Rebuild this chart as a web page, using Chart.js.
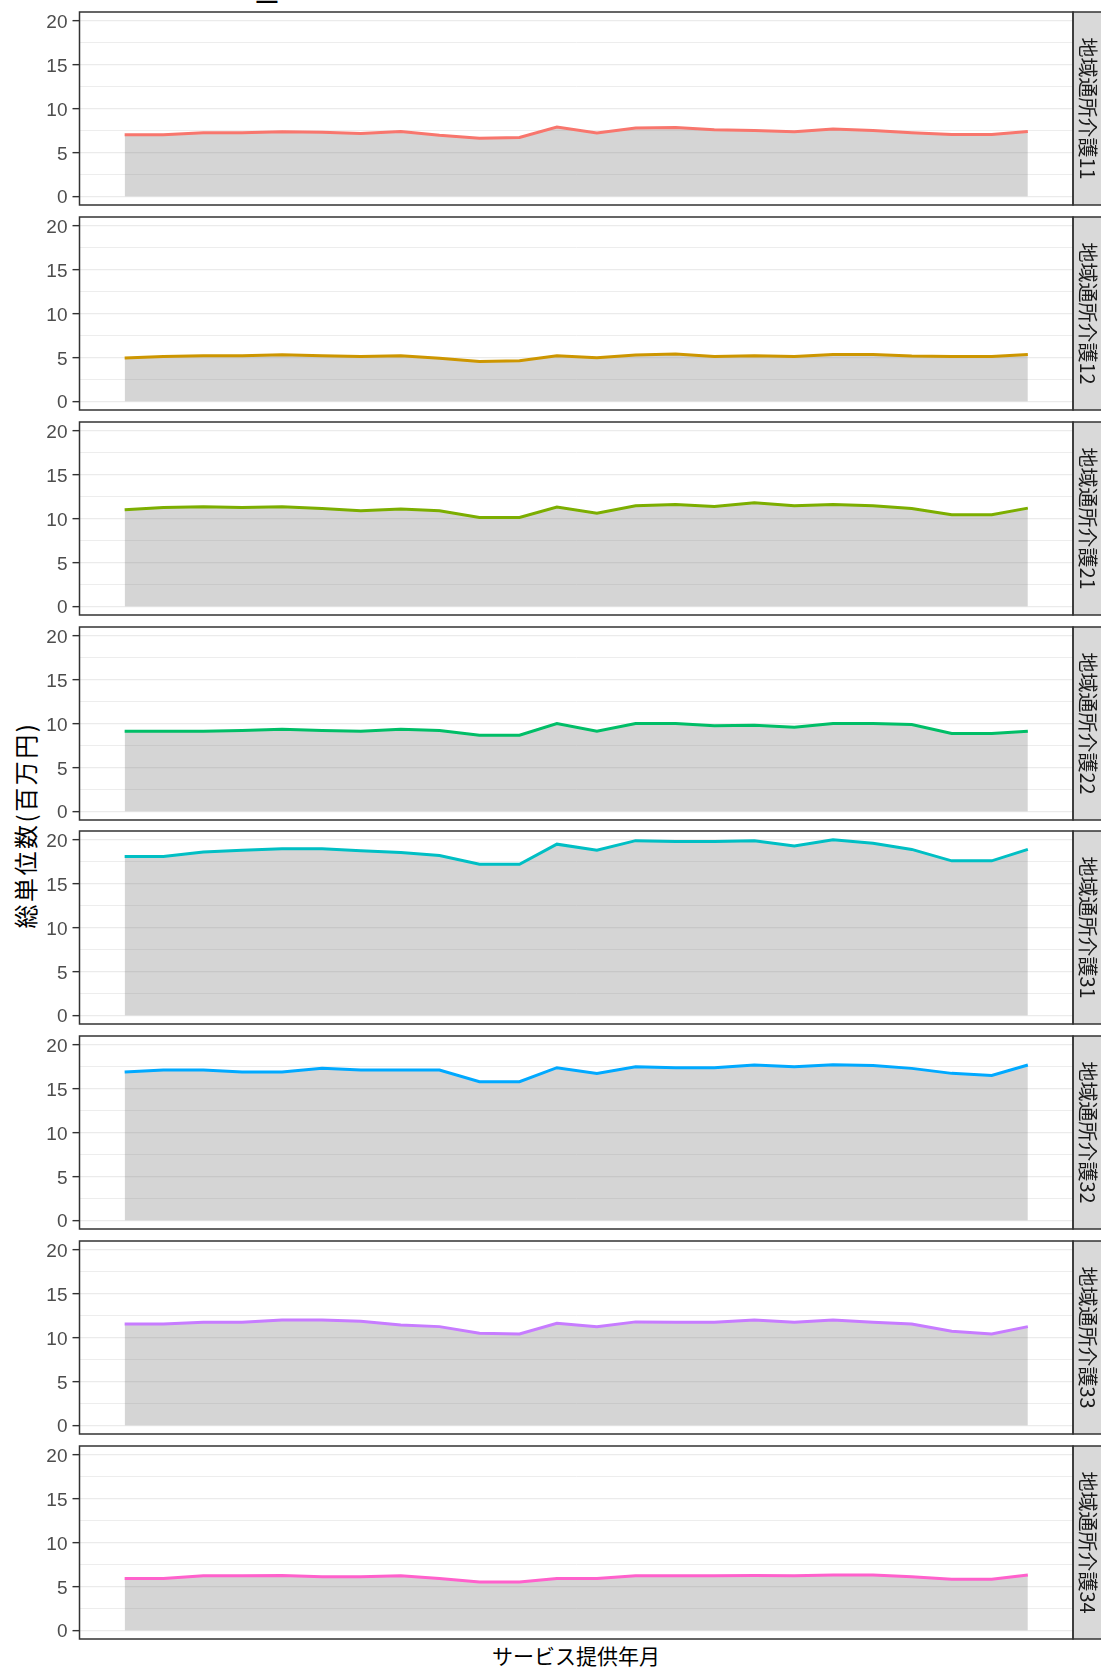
<!DOCTYPE html>
<html lang="ja">
<head>
<meta charset="utf-8">
<script src="https://cdn.jsdelivr.net/npm/chart.js@4.4.1/dist/chart.umd.min.js"></script>
<style>
  body { margin: 0; background: #fff; }
  #lienzo { position: relative; width: 1101px; height: 1668px; overflow: hidden; background: #fff; }
  #lienzo canvas { position: absolute; left: 0; }
  #fragmento-titulo { position: absolute; left: 257px; top: -34px; font: 36px/36px "Liberation Sans", Arial, sans-serif; color: #000; }
  #titulo-y { position: absolute; left: -175px; top: 810px; width: 400px; height: 30px; line-height: 30px; text-align: center;
    transform: rotate(-90deg); font-family: "Noto Sans CJK JP", sans-serif; font-size: 24px; letter-spacing: 2.5px; color: #000; }
  #titulo-x { position: absolute; left: 79px; width: 994px; top: 1643px; line-height: 24px; text-align: center;
    font-family: "Noto Sans CJK JP", sans-serif; font-size: 21px; color: #000; }
</style>
</head>
<body>
<div id="lienzo">
  <div id="fragmento-titulo">_</div>
  <div id="titulo-y">総単位数(百万円)</div>
  <div id="titulo-x">サービス提供年月</div>
</div>
<script>
// meses de servicio (eje x, sin etiquetas visibles)
const meses = [
  "2019-04", "2019-05", "2019-06", "2019-07", "2019-08", "2019-09", "2019-10", "2019-11",
  "2019-12", "2020-01", "2020-02", "2020-03", "2020-04", "2020-05", "2020-06", "2020-07",
  "2020-08", "2020-09", "2020-10", "2020-11", "2020-12", "2021-01", "2021-02", "2021-03",
];

const paneles = [
  "地域通所介護11", "地域通所介護12", "地域通所介護21", "地域通所介護22",
  "地域通所介護31", "地域通所介護32", "地域通所介護33", "地域通所介護34",
];

const colores = ["#F8766D", "#CD9600", "#7CAE00", "#00BE67", "#00BFC4", "#00A9FF", "#C77CFF", "#FF61CC"];

// total de unidades (millones de yenes)
const serie11 = [7.0, 7.0, 7.23, 7.23, 7.35, 7.3, 7.16, 7.39, 6.95, 6.62, 6.7, 7.88, 7.2, 7.77, 7.84, 7.58, 7.5, 7.35, 7.65, 7.5, 7.23, 7.04, 7.04, 7.39];
const serie12 = [4.92, 5.11, 5.19, 5.19, 5.3, 5.19, 5.11, 5.19, 4.89, 4.54, 4.62, 5.19, 4.96, 5.27, 5.38, 5.11, 5.19, 5.11, 5.34, 5.34, 5.15, 5.11, 5.11, 5.34];
const serie21 = [10.99, 11.26, 11.33, 11.26, 11.33, 11.14, 10.88, 11.07, 10.88, 10.11, 10.11, 11.3, 10.61, 11.45, 11.6, 11.37, 11.79, 11.45, 11.6, 11.45, 11.14, 10.42, 10.42, 11.18];
const serie22 = [9.12, 9.12, 9.12, 9.2, 9.35, 9.2, 9.12, 9.35, 9.2, 8.67, 8.67, 10.0, 9.12, 10.0, 10.0, 9.73, 9.81, 9.58, 10.0, 10.0, 9.89, 8.86, 8.86, 9.12];
const serie31 = [18.1, 18.1, 18.6, 18.8, 18.97, 18.97, 18.75, 18.55, 18.2, 17.2, 17.2, 19.5, 18.8, 19.9, 19.8, 19.8, 19.9, 19.3, 20.0, 19.6, 18.9, 17.6, 17.6, 18.9];
const serie32 = [16.89, 17.12, 17.12, 16.89, 16.89, 17.31, 17.12, 17.12, 17.12, 15.79, 15.79, 17.39, 16.74, 17.5, 17.39, 17.39, 17.69, 17.5, 17.73, 17.65, 17.31, 16.74, 16.51, 17.69];
const serie33 = [11.55, 11.55, 11.74, 11.74, 12.0, 12.0, 11.85, 11.43, 11.24, 10.48, 10.4, 11.62, 11.24, 11.78, 11.74, 11.74, 12.0, 11.74, 12.0, 11.74, 11.55, 10.71, 10.4, 11.24];
const serie34 = [5.9, 5.9, 6.2, 6.2, 6.25, 6.1, 6.1, 6.2, 5.9, 5.5, 5.5, 5.9, 5.9, 6.2, 6.2, 6.2, 6.25, 6.2, 6.3, 6.3, 6.1, 5.8, 5.8, 6.3];

const series = [serie11, serie12, serie21, serie22, serie31, serie32, serie33, serie34];

const ticksMayores = [0, 5, 10, 15, 20];
const ticksMenores = [2.5, 7.5, 12.5, 17.5];

const $lienzo = document.getElementById("lienzo");

function diasDesdeInicio(mes) {
  const [a, m] = mes.split("-").map(Number);
  const [a0, m0] = meses[0].split("-").map(Number);
  return (Date.UTC(a, m - 1, 1) - Date.UTC(a0, m0 - 1, 1)) / 86400000;
}

const dias = meses.map(diasDesdeInicio);
const rangoX = dias[dias.length - 1];
const maxY = Math.max(...series.flat());

// expansión del 5% como en ggplot
const xMin = -0.05 * rangoX;
const xMax = rangoX * 1.05;
const yMin = -0.05 * maxY;
const yMax = maxY * 1.05;

const todosTicks = [...ticksMayores, ...ticksMenores].sort((a, b) => a - b);
const esMayor = (v) => ticksMayores.includes(v);

const tiraYBorde = {
  id: "tiraYBorde",
  afterDraw(chart, args, opts) {
    const { ctx } = chart;
    const { left, top, right, bottom } = chart.chartArea;
    ctx.save();
    ctx.fillStyle = "#D9D9D9";
    ctx.fillRect(right, top, 34, bottom - top);
    ctx.strokeStyle = "#333333";
    ctx.lineWidth = 1.5;
    ctx.strokeRect(right, top, 34, bottom - top);
    ctx.strokeRect(left, top, right - left, bottom - top);
    ctx.translate(right + 15, (top + bottom) / 2);
    ctx.rotate(Math.PI / 2);
    ctx.fillStyle = "#1A1A1A";
    ctx.font = '20px "Noto Sans CJK JP"';
    ctx.textAlign = "center";
    ctx.textBaseline = "middle";
    ctx.fillText(opts.texto, 0, 0);
    ctx.restore();
  },
};

const ALTO_PANEL = 193;
const MARGEN = 20;

paneles.forEach((nombre, k) => {
  const topPanel = Math.round(12.2 + 204.8 * k);
  const $canvas = document.createElement("canvas");
  $canvas.width = 1101;
  $canvas.height = ALTO_PANEL + 2 * MARGEN;
  $canvas.style.top = `${topPanel - MARGEN}px`;
  $lienzo.appendChild($canvas);

  new Chart($canvas, {
    type: "line",
    data: {
      datasets: [
        {
          data: series[k].map((v, i) => ({ x: dias[i], y: v })),
          borderColor: colores[k],
          borderWidth: 3,
          backgroundColor: "rgba(127,127,127,0.33)",
          fill: "origin",
          pointRadius: 0,
          tension: 0,
        },
      ],
    },
    options: {
      responsive: false,
      animation: false,
      devicePixelRatio: 1,
      events: [],
      layout: { padding: { left: 0, right: 28, top: MARGEN, bottom: MARGEN } },
      scales: {
        x: { type: "linear", display: false, min: xMin, max: xMax },
        y: {
          min: yMin,
          max: yMax,
          afterBuildTicks: (escala) => {
            escala.ticks = todosTicks.map((v) => ({ value: v }));
          },
          afterFit: (escala) => {
            escala.width = 79.5;
          },
          border: { display: false },
          grid: {
            color: "#EBEBEB",
            lineWidth: (c) => (c.tick && esMayor(c.tick.value) ? 1.3 : 0.9),
            tickLength: 7,
            tickWidth: 1.4,
            tickColor: (c) => (c.tick && esMayor(c.tick.value) ? "#333333" : "rgba(0,0,0,0)"),
          },
          ticks: {
            autoSkip: false,
            padding: 5,
            labelOffset: 2,
            color: "#4D4D4D",
            font: { family: "'Liberation Sans', Arial, sans-serif", size: 19 },
            callback: (v) => (esMayor(v) ? String(v) : ""),
          },
        },
      },
      plugins: {
        legend: { display: false },
        tooltip: { enabled: false },
        tiraYBorde: { texto: nombre },
      },
    },
    plugins: [tiraYBorde],
  });
});
</script>
</body>
</html>
